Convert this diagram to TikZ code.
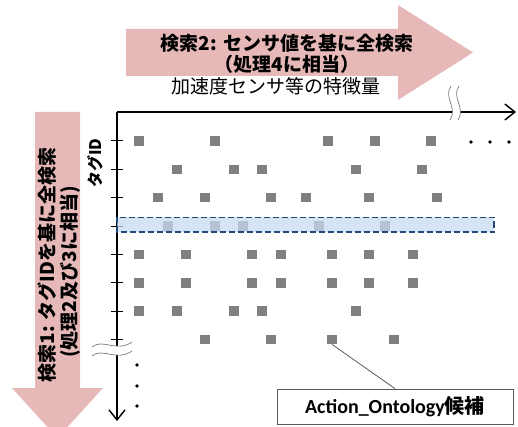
\documentclass[tikz,border=0pt]{standalone}
\usepackage{fontspec}
\setmainfont{Noto Sans CJK JP}
\newfontfamily\latinb{Carlito}
\usetikzlibrary{arrows.meta}
\definecolor{arrowpink}{RGB}{230,185,184}
\definecolor{sqgray}{RGB}{128,128,128}
\definecolor{hlfill}{RGB}{198,217,241}
\definecolor{hlborder}{RGB}{36,72,122}
\definecolor{brkgray}{RGB}{120,120,120}
\definecolor{calgray}{RGB}{90,90,90}
\begin{document}
\begin{tikzpicture}[x=1pt,y=-1pt,
  bigarrow/.style={fill=arrowpink, draw=none},
  atext/.style={inner sep=0pt, font=\fontsize{19}{21}\selectfont\bfseries},
  ptext/.style={inner sep=0pt, font=\fontsize{19}{21}\selectfont},
  axis/.style={line width=1.6pt, -{Straight Barb[length=10pt,width=16pt,line width=1.4pt]}},
  tick/.style={line width=1pt},
  sq/.style={fill=sqgray, draw=none, minimum size=9.5pt, inner sep=0pt},
  hl/.style={fill=hlfill, fill opacity=0.75, draw=hlborder, draw opacity=1, dash pattern=on 6pt off 3pt, line width=1.4pt},
  brkfill/.style={draw=none, fill=white},
  brkline/.style={draw=brkgray, line width=0.7pt},
  dot/.style={circle, fill=black, inner sep=0pt, minimum size=3.6pt},
  callbox/.style={draw=calgray, line width=0.7pt, minimum width=236pt, minimum height=35pt, inner sep=0pt},
  calline/.style={draw=calgray, line width=0.8pt}]
\useasboundingbox (0,0) rectangle (518,427);
\clip (0,0) rectangle (518,427);
% big arrows
\fill[bigarrow] (126,29) -- (398,29) -- (398,5) -- (473,52.5) -- (398,100) -- (398,76) -- (126,76) -- cycle;
\fill[bigarrow] (35,112) -- (80,112) -- (80,388) -- (103,388) -- (57.5,438) -- (12,388) -- (35,388) -- cycle;
% arrow texts
\node[atext] (t1) at (287,43) {検索2: センサ値を基に全検索};
\node[atext] (t2) at (287,64) {（処理4に相当）};
\node[ptext] (t3) at (276,86) {加速度センサ等の特徴量};
\node[atext, rotate=90] (l1) at (47,265) {検索1: タグIDを基に全検索};
\node[atext, rotate=90] (l2) at (70,272) {(処理2及び3に相当)};
\node[inner sep=0pt, rotate=90, font=\fontsize{16}{18}\selectfont\bfseries] (tagid) at (95,163) {タグID};
% axes
\coordinate (o) at (117,112);
\coordinate (xend) at (516,112);
\coordinate (yend) at (117,421);
\draw[axis] (o) -- (xend);
\draw[axis] (o) -- (yend);
% ticks
\foreach \r in {1,...,8} {
  \draw[tick] (111,{141+(\r-1)*28.35}) -- (123,{141+(\r-1)*28.35});
}
% squares
\foreach \r/\xs in {1/{139,215,328,375,431},
                    2/{177,234,262,356,422},
                    3/{158,205,271,306,369,437},
                    4/{168,215,243,319,385},
                    5/{139,186,252,281,332,369,413},
                    6/{139,186,252,281,332,369,413},
                    7/{139,177,234,262,356},
                    8/{205,271,332,394}} {
  \foreach \x [count=\c] in \xs {
    \node[sq] (s\r-\c) at (\x,{141+(\r-1)*28.35}) {};
  }
}
% highlighted row
\draw[hl] (117,217.5) rectangle (494,232);
% axis breaks
\fill[brkfill] (451,86) .. controls (443,97) and (458,108) .. (450,120)
  -- (458,120) .. controls (466,108) and (451,97) .. (459,86) -- cycle;
\draw[brkline] (451,86) .. controls (443,97) and (458,108) .. (450,120);
\draw[brkline] (459,86) .. controls (451,97) and (466,108) .. (458,120);
\fill[brkfill] (92,347) .. controls (103,338) and (116,353) .. (132,342)
  -- (132,351) .. controls (116,362) and (103,347) .. (92,356) -- cycle;
\draw[brkline] (92,347) .. controls (103,338) and (116,353) .. (132,342);
\draw[brkline] (92,356) .. controls (103,347) and (116,362) .. (132,351);
% continuation dots
\node[dot] (dx1) at (471,142) {};
\node[dot] (dx2) at (490,142) {};
\node[dot] (dx3) at (509,142) {};
\node[dot] (dy1) at (137,365) {};
\node[dot] (dy2) at (137,386) {};
\node[dot] (dy3) at (137,406) {};
% callout
\node[callbox] (cbox) at (395,406.5) {\fontsize{20}{22}\selectfont{\latinb\bfseries Action\_Ontology}\bfseries 候補};
\draw[calline] (s8-3.south) -- (cbox.north);
\end{tikzpicture}
\end{document}
